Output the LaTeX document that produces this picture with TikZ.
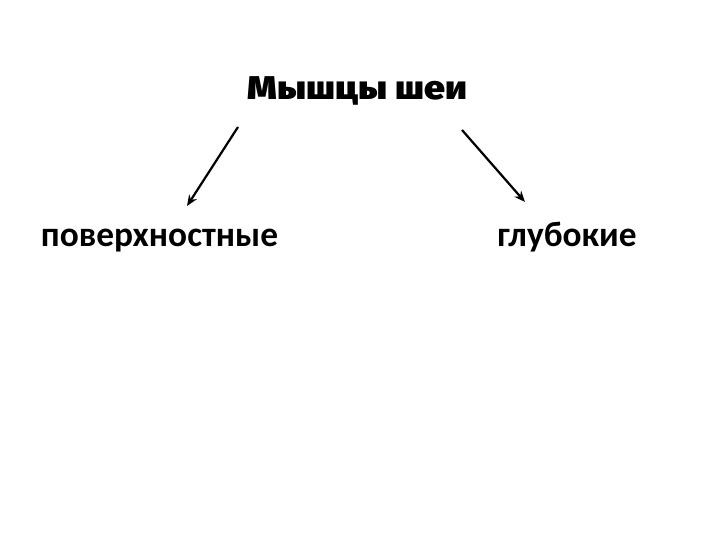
\documentclass[tikz,border=0pt]{standalone}
\usepackage{fontspec}
\setmainfont{Carlito}
\newfontfamily\titlefont{Fira Sans Black}
\usetikzlibrary{arrows.meta}
\begin{document}
\begin{tikzpicture}[x=1bp,y=-1bp,
  titlestyle/.style={font=\titlefont\fontsize{33}{39}\selectfont, inner sep=0pt, anchor=base, xscale=1.14},
  leafstyle/.style={font=\bfseries\fontsize{35.5}{42}\selectfont, inner sep=0pt, anchor=base},
  arr/.style={line width=2.2bp, -{Stealth[length=11bp,width=9bp]}}]
\useasboundingbox[fill=white] (0,0) rectangle (720,540);
\node[titlestyle] (title) at (357.5,100) {Мышцы шеи};
\node[leafstyle] (pov) at (159.5,247) {поверхностные};
\node[leafstyle] (glub) at (567,247) {глубокие};
\coordinate (ls) at (238,127);
\coordinate (le) at (187,206);
\coordinate (rs) at (462,130);
\coordinate (re) at (525,202);
\draw[arr] (ls) -- (le);
\draw[arr] (rs) -- (re);
\end{tikzpicture}
\end{document}
